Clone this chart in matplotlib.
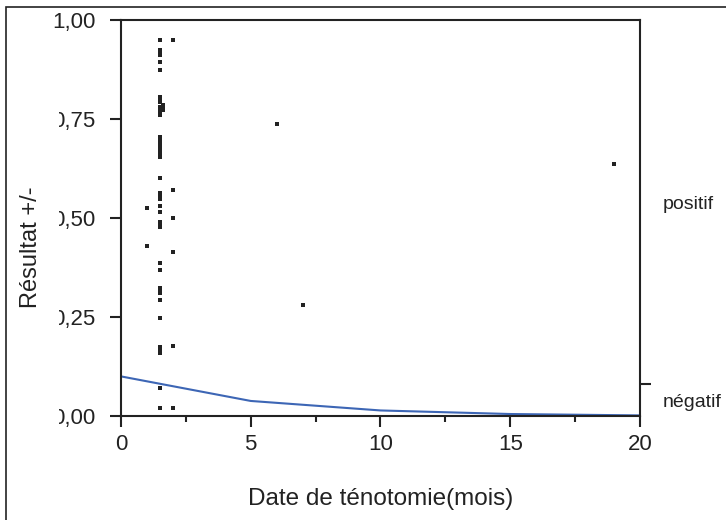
import numpy as np
import matplotlib
matplotlib.use("Agg")
import matplotlib.pyplot as plt
from matplotlib.patches import Rectangle
from matplotlib.transforms import Bbox

plt.rcParams['font.family'] = ['Liberation Sans', 'DejaVu Sans']

# Données (colonnes de points par date)
y_15 = [0.949, 0.924, 0.919, 0.912, 0.894, 0.874, 0.806, 0.798, 0.793,
        0.780, 0.775, 0.770, 0.760, 0.705, 0.697, 0.689, 0.679, 0.669,
        0.662, 0.654, 0.601, 0.563, 0.556, 0.548, 0.530, 0.515, 0.490,
        0.482, 0.477, 0.386, 0.369, 0.323, 0.318, 0.311, 0.293, 0.247,
        0.174, 0.167, 0.159, 0.071, 0.020]
y_16 = [0.785, 0.778, 0.772]
y_20 = [0.949, 0.571, 0.500, 0.414, 0.177, 0.020]
y_10 = [0.525, 0.429]
x_autres = [6.0, 7.0, 19.0]
y_autres = [0.737, 0.280, 0.636]

x_pts = ([1.5] * len(y_15) + [1.6] * len(y_16) + [2.0] * len(y_20)
         + [1.0] * len(y_10) + x_autres)
y_pts = y_15 + y_16 + y_20 + y_10 + y_autres

curve_x = [0, 5, 10, 15, 20]
curve_y = [0.100, 0.038, 0.014, 0.005, 0.0015]

y_ticks = [0, 0.25, 0.5, 0.75, 1.0]
y_labels = ['0,00', '0,25', '0,50', '0,75', '1,00']
x_ticks = [0, 5, 10, 15, 20]
x_minor = [2.5, 7.5, 12.5, 17.5]

# axe de droite : seuil et zones
seuil = 0.08
zones = [0.04, 0.54]
zones_labels = ['négatif', 'positif']

dark = '#222222'

fig = plt.figure(figsize=(7.26, 5.2), dpi=100)
fig.patches.append(Rectangle((6 / 726, -0.1), 1.2, 1.1 - 7 / 520,
                             transform=fig.transFigure, fill=False,
                             edgecolor=dark, linewidth=1.2))

ax = fig.add_axes([121 / 726, 1 - 416 / 520, 519 / 726, 396 / 520])
ax.plot(x_pts, y_pts, 's', color=dark, markersize=3, markeredgewidth=0)
ax.plot(curve_x, curve_y, color='#3d66b5', linewidth=1.5)

ax.set_xlim(0, 20)
ax.set_ylim(0, 1)
ax.set_xticks(x_ticks)
ax.set_xticks(x_minor, minor=True)
ax.set_yticks(y_ticks)
ax.set_yticklabels(y_labels)
for s in ax.spines.values():
    s.set_color(dark)
    s.set_linewidth(1.5)
ax.tick_params(axis='both', which='major', length=8, width=1.5,
               color=dark, labelsize=16, labelcolor=dark)
ax.tick_params(axis='x', which='major', pad=5)
ax.tick_params(axis='y', which='major', pad=10.5)
ax.tick_params(axis='x', which='minor', length=4, width=1.5, color=dark)

ax.set_xlabel('Date de ténotomie(mois)', fontsize=17.5, color=dark)
ax.xaxis.set_label_coords(0.5, -0.183)
ax.set_ylabel('Résultat +/-', fontsize=17, color=dark)
ax.yaxis.set_label_coords(-0.152, 0.425)

ax2 = ax.twinx()
ax2.set_ylim(0, 1)
ax2.set_yticks([seuil])
ax2.set_yticklabels([''])
ax2.set_yticks(zones, minor=True)
ax2.set_yticklabels(zones_labels, minor=True)
ax2.tick_params(axis='y', which='major', length=8, width=1.5, color=dark)
ax2.tick_params(axis='y', which='minor', length=0, labelsize=14,
                labelcolor=dark, pad=16)
for s in ax2.spines.values():
    s.set_visible(False)

# bord gauche des étiquettes rogné comme sur l'original (sauf 1,00)
clip = Bbox([[58.5, 0], [726, 520]])
for lab in ax.get_yticklabels()[:-1]:
    lab.set_clip_box(clip)
    lab.set_clip_on(True)

fig.savefig('out.png', dpi=100)
